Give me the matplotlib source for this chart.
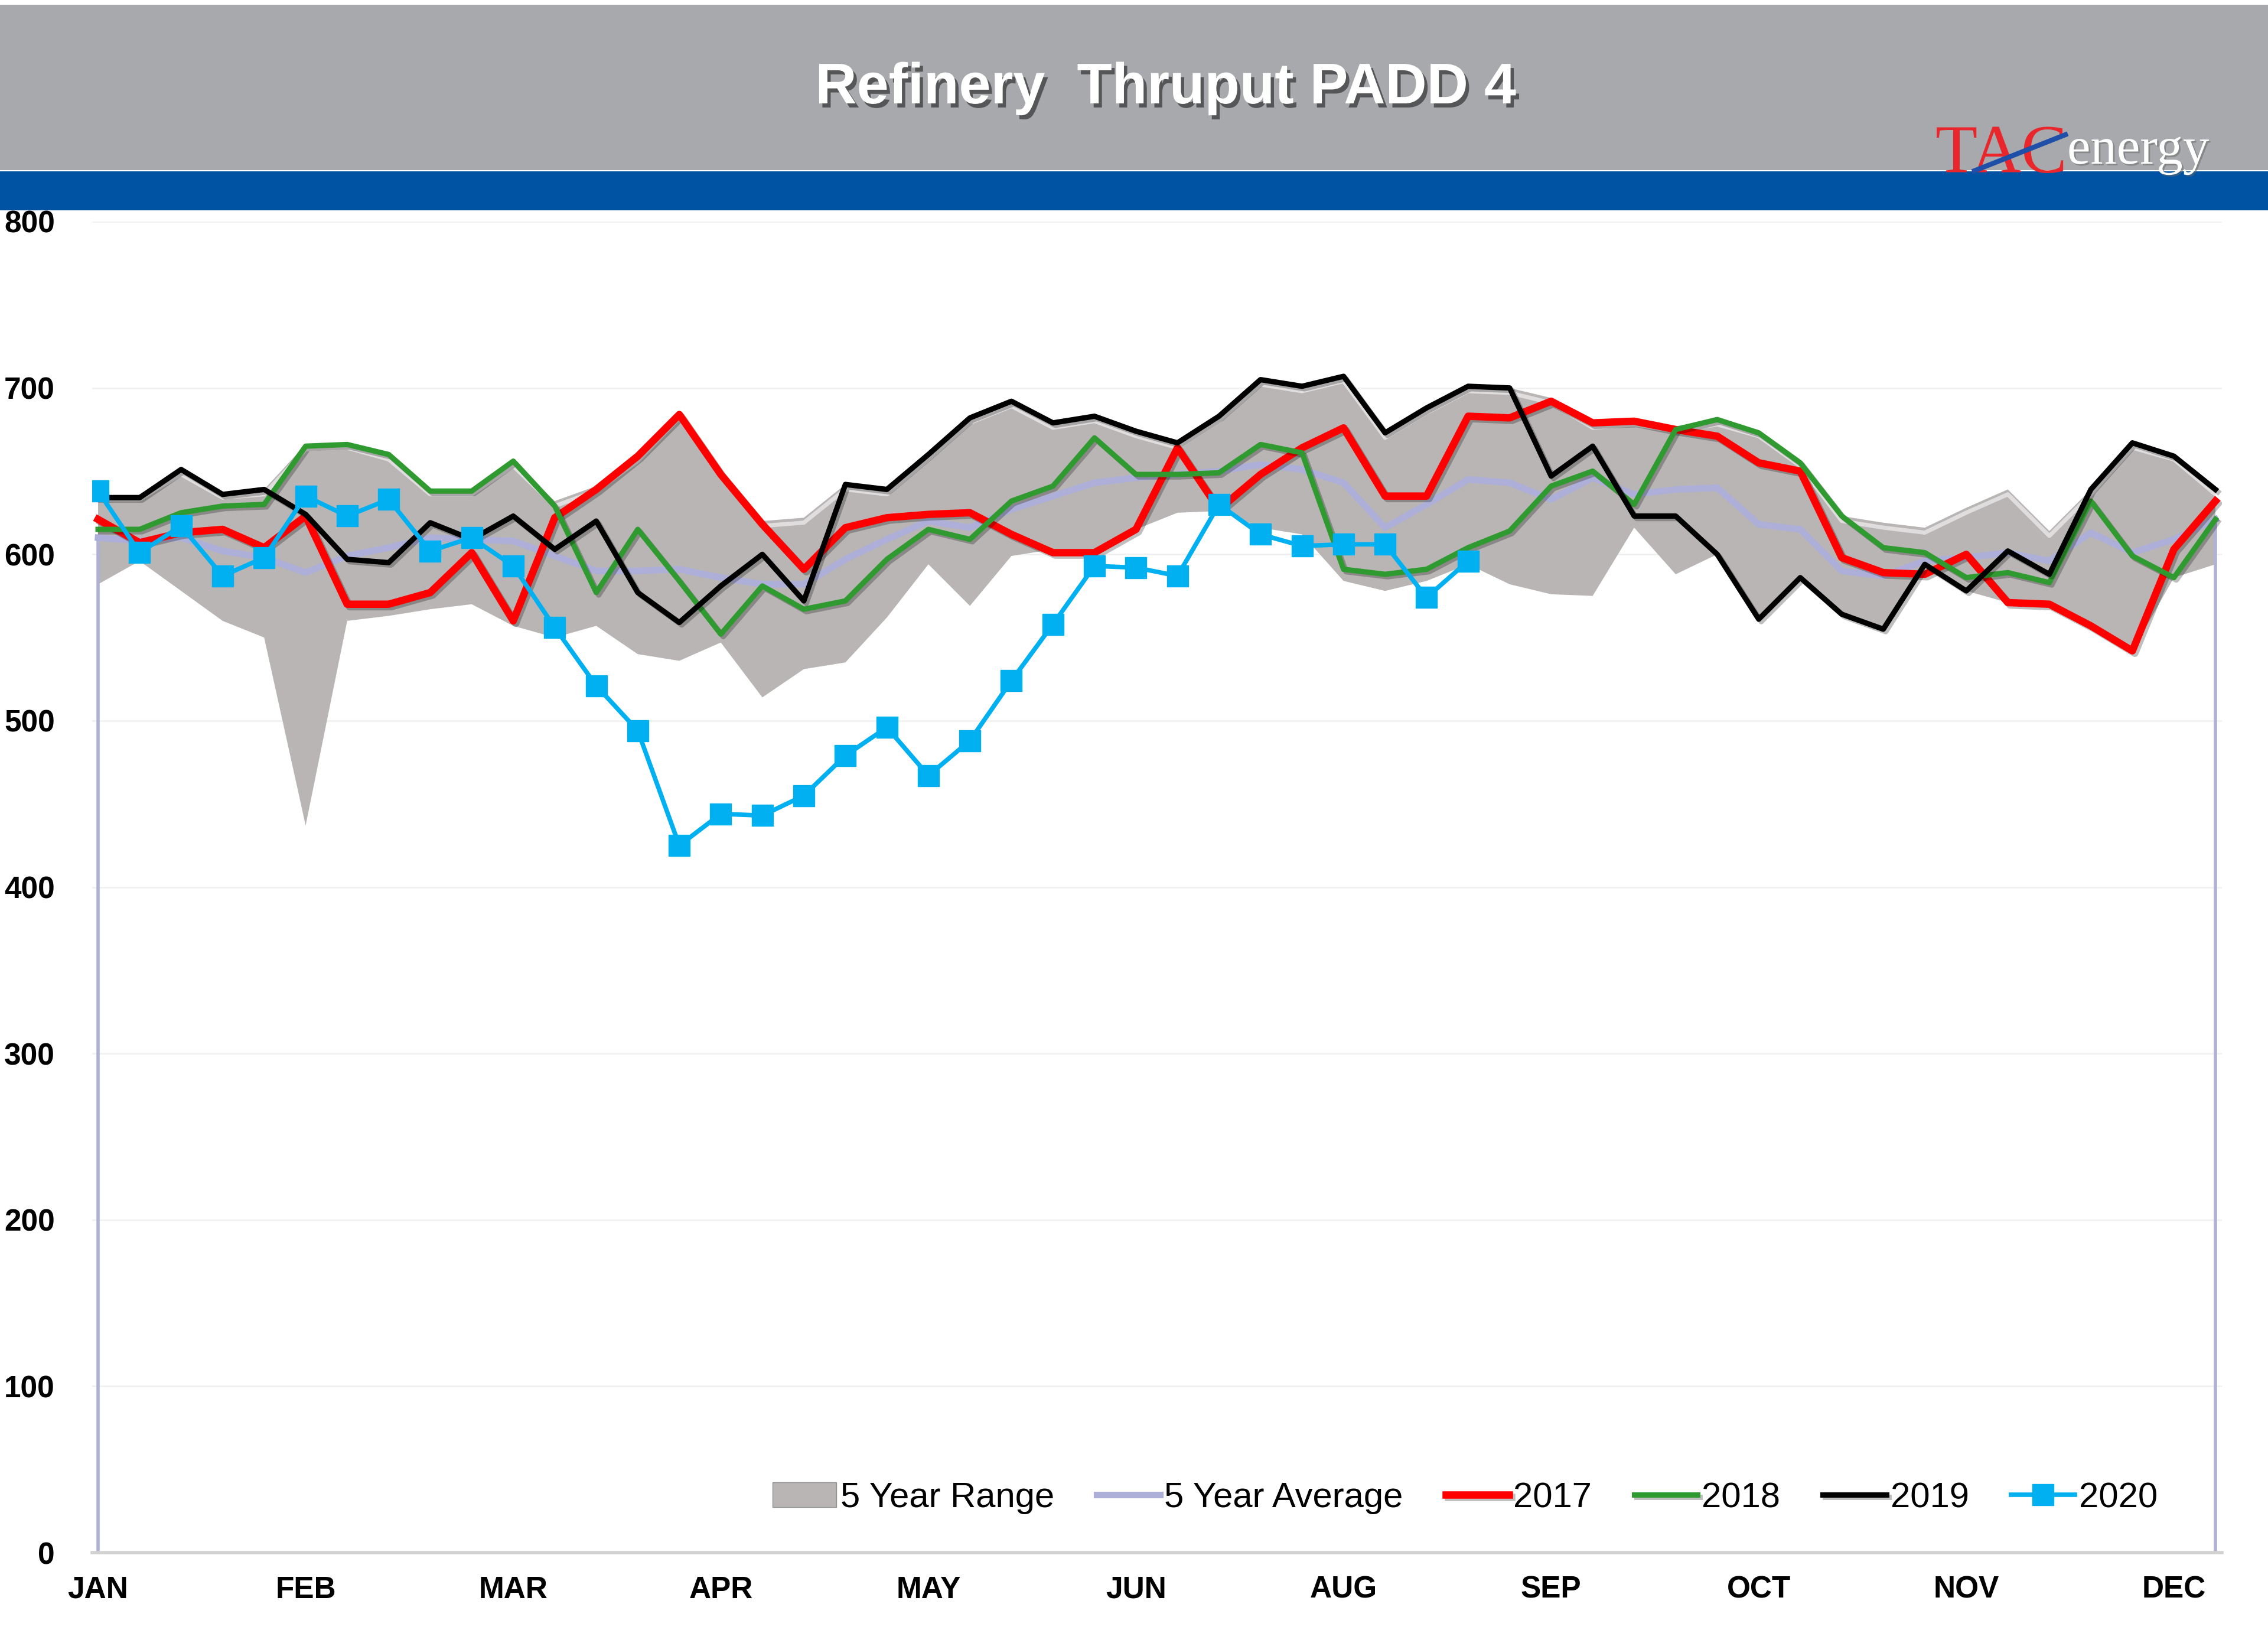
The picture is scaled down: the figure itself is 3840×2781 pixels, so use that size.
import numpy as np
import matplotlib
matplotlib.use("Agg")
import matplotlib.pyplot as plt
import matplotlib.patheffects as pe
from matplotlib.patches import Rectangle
from matplotlib.lines import Line2D

# weekly refinery thruput, PADD 4 (kb/d)
weeks = list(range(1, 53))
month_weeks = [1, 6, 11, 16, 21, 26, 31, 36, 41, 46, 51]
month_labels = ["JAN", "FEB", "MAR", "APR", "MAY", "JUN", "AUG", "SEP", "OCT", "NOV", "DEC"]

range_low = [582, 596, 578, 560, 550, 437, 560, 563, 567, 570,
             557, 550, 557, 540, 536, 547, 514, 531, 535, 562,
             594, 569, 599, 603, 603, 615, 625, 626, 616, 612,
             584, 578, 584, 594, 582, 576, 575, 616, 588, 600,
             562, 586, 564, 555, 592, 578, 571, 570, 557, 542,
             586, 594]
range_high = [636, 636, 651, 637, 639, 666, 667, 660, 639, 639,
              656, 632, 641, 659, 685, 650, 620, 622, 642, 639,
              660, 682, 692, 679, 683, 674, 667, 683, 705, 701,
              707, 673, 688, 701, 700, 694, 679, 681, 677, 681,
              674, 656, 623, 619, 616, 628, 639, 614, 639, 667,
              660, 639]
avg_5yr = [610, 608, 610, 602, 598, 589, 599, 604, 610, 609,
           608, 599, 590, 590, 591, 586, 582, 582, 597, 609,
           620, 616, 627, 635, 643, 646, 648, 650, 654, 651,
           643, 616, 630, 645, 643, 633, 646, 636, 639, 640,
           618, 615, 590, 587, 596, 598, 601, 596, 613, 601,
           609, 621]
y2017 = [621, 607, 613, 615, 604, 623, 570, 570, 577, 601,
         560, 622, 639, 659, 684, 648, 618, 591, 616, 622,
         624, 625, 612, 601, 601, 615, 664, 627, 648, 664,
         676, 635, 635, 683, 682, 692, 679, 680, 675, 671,
         655, 650, 598, 589, 588, 600, 571, 570, 557, 542,
         603, 632]
y2018 = [615, 615, 625, 629, 630, 665, 666, 660, 638, 638,
         656, 629, 577, 615, 584, 552, 581, 567, 572, 597,
         615, 609, 632, 641, 670, 648, 648, 649, 666, 661,
         591, 588, 591, 604, 614, 641, 650, 630, 675, 681,
         673, 655, 623, 604, 601, 586, 589, 583, 632, 599,
         586, 621]
y2019 = [634, 634, 651, 636, 639, 624, 597, 595, 619, 609,
         623, 603, 620, 577, 559, 581, 600, 572, 642, 639,
         660, 682, 692, 679, 683, 674, 667, 683, 705, 701,
         707, 673, 688, 701, 700, 647, 665, 623, 623, 600,
         561, 586, 564, 555, 594, 578, 602, 588, 639, 667,
         659, 639]
y2020 = [638, 601, 617, 587, 598, 635, 623, 633, 602, 610,
         593, 556, 521, 494, 425, 444, 443, 455, 479, 496,
         467, 488, 524, 558, 593, 592, 587, 630, 612, 605,
         606, 606, 574, 596]

W, H = 3840, 2781
fig = plt.figure(figsize=(W / 100, H / 100), dpi=100)
fig.patch.set_facecolor("white")

# header bands
fig.add_artist(Rectangle((0, 1 - 288 / H), 1, 280 / H, transform=fig.transFigure,
                         facecolor="#a7a9ac", edgecolor="none", zorder=5))
fig.add_artist(Rectangle((0, 1 - 356 / H), 1, 66 / H, transform=fig.transFigure,
                         facecolor="#0053a3", edgecolor="none", zorder=5))
fig.text(0.514, 1 - 150 / H, "Refinery  Thruput PADD 4", color="white",
         fontsize=70, fontweight="bold", family=["Liberation Sans", "DejaVu Sans"],
         ha="center", va="center", zorder=6,
         path_effects=[pe.withSimplePatchShadow(offset=(4, -5), shadow_rgbFace="#333333", alpha=0.7)])

# logo
fig.text(3277 / W, 1 - 292 / H, "TAC", color="#e8262b", fontsize=84,
         family=["Liberation Serif", "DejaVu Serif"], ha="left", va="baseline", zorder=6)
fig.text(3500 / W, 1 - 277 / H, "energy", color="white", fontsize=64,
         family=["Liberation Serif", "DejaVu Serif"], ha="left", va="baseline", zorder=6,
         path_effects=[pe.withSimplePatchShadow(offset=(2, -2), shadow_rgbFace="#666666", alpha=0.5)])
fig.add_artist(Line2D([3343 / W, 3497 / W], [1 - 289 / H, 1 - 228 / H], transform=fig.transFigure,
                      color="#1f4fa8", lw=6, zorder=7))

ax = fig.add_axes([155.5 / W, 1 - 2628 / H, 3606 / W, 2253 / H])
ax.set_xlim(0.85, 52.15)
ax.set_ylim(0, 800)

ax.fill_between(weeks, range_low, range_high, facecolor="#b9b5b5", edgecolor="none",
                label="5 Year Range", zorder=2)
ax.plot(weeks, range_high, color="white", lw=5, alpha=0.55, zorder=2.1,
        path_effects=[pe.Stroke(offset=(0, -6))])

ax.vlines([weeks[0], weeks[-1]], 0, [avg_5yr[0], avg_5yr[-1]], color="#aeb0d4", lw=4, zorder=2.5)
ax.plot(weeks, avg_5yr, color="#adafd8", lw=8, label="5 Year Average", zorder=3)

shadow = [pe.SimpleLineShadow(offset=(3, -3), alpha=0.25), pe.Normal()]
ax.plot(weeks, y2017, color="#ff0000", lw=9, label="2017", zorder=4, path_effects=shadow)
ax.plot(weeks, y2018, color="#2f9a2f", lw=6.5, label="2018", zorder=5, path_effects=shadow)
ax.plot(weeks, y2019, color="#000000", lw=6.5, label="2019", zorder=6, path_effects=shadow)
ax.plot(weeks[:len(y2020)], y2020, color="#00b0f0", lw=5.5, marker="s", markersize=26,
        label="2020", zorder=7)

ax.set_yticks(range(0, 801, 100))
ax.set_xticks(month_weeks)
ax.set_xticklabels(month_labels)
ax.grid(axis="y", color="#f1f1f1", lw=2, zorder=0)
ax.set_axisbelow(True)
for s in ["left", "right", "top"]:
    ax.spines[s].set_visible(False)
ax.spines["bottom"].set_color("#d2d2d2")
ax.spines["bottom"].set_linewidth(4)
ax.tick_params(length=0)
ax.tick_params(axis="y", pad=45)
ax.tick_params(axis="x", pad=28)
for lab in ax.get_xticklabels() + ax.get_yticklabels():
    lab.set_family(["Liberation Sans", "DejaVu Sans"])
    lab.set_fontweight("bold")
    lab.set_fontsize(37)

leg = ax.legend(loc="center right", bbox_to_anchor=(0.970, 0.041), ncol=6, frameon=False,
                borderaxespad=0, borderpad=0, handlelength=1.8, handletextpad=0.12,
                columnspacing=1.2, prop={"family": ["Liberation Sans", "DejaVu Sans"], "size": 43})
for h in leg.legend_handles:
    if hasattr(h, "set_edgecolor") and not isinstance(h, Line2D):
        h.set_edgecolor("#8f8f8f")

fig.savefig("out.png", dpi=100)
